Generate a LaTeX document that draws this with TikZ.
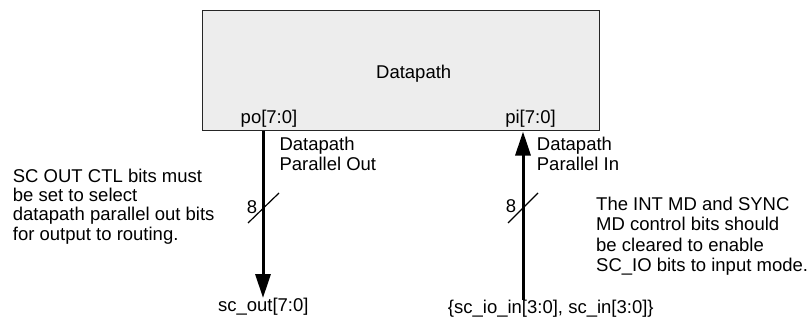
\documentclass[tikz,border=0pt]{standalone}
\usepackage{fontspec}
\setmainfont{Liberation Sans}
\usetikzlibrary{arrows.meta,positioning,calc}

\begin{document}
\begin{tikzpicture}[x=1pt, y=-1pt, >={Triangle[length=24pt,width=15pt]},
    every node/.style={font=\fontsize{18.5}{19.5}\selectfont, inner sep=0pt},
    block/.style={rectangle, draw=black!85, line width=1.5pt, fill=black!7, minimum width=397pt, minimum height=120pt},
    bus/.style={line width=3pt},
    buswidth/.style={line width=1.2pt},
    note/.style={align=left, anchor=base west}]
    \useasboundingbox (0,0) rectangle (810,326);

    % Datapath block and its ports
    \node[block] (dp) at (401,70.5) {};
    \node[anchor=base] (dptitle) at (413.7,78.3) {Datapath};
    \node[anchor=base] (polbl) at (269,124) {po[7:0]};
    \node[anchor=base] (pilbl) at (530.5,124) {pi[7:0]};
    \coordinate (po) at (263,130.5);
    \coordinate (pi) at (523,131.5);

    % Left side: parallel out (note anchors sit on the last baseline)
    \coordinate (scoutend) at (263,298);
    \draw[bus,->] (po) -- (scoutend);
    \node[note] (polabel) at (279.3,170.2) {Datapath\\Parallel Out};
    \coordinate (powidth) at (263,208);
    \draw[buswidth] ([shift={(-15,15)}]powidth) -- ([shift={(16,-15)}]powidth);
    \node[anchor=base] (pocount) at (252,213) {8};
    \node[anchor=base] (scout) at (263.3,311.7) {sc\_out[7:0]};
    \node[note, font=\fontsize{18.5}{19.1}\selectfont] (ctlnote) at (12.7,240)
        {SC OUT CTL bits must\\be set to select\\datapath parallel out bits\\for output to routing.};

    % Right side: parallel in
    \coordinate (scinend) at (523,300);
    \draw[bus,->] (scinend) -- (pi);
    \node[note] (pilabel) at (536.7,170) {Datapath\\Parallel In};
    \coordinate (piwidth) at (523,208);
    \draw[buswidth] ([shift={(-15,15)}]piwidth) -- ([shift={(15,-15)}]piwidth);
    \node[anchor=base] (picount) at (511,212.5) {8};
    \node[anchor=base] (scin) at (550.8,313) {\{sc\_io\_in[3:0], sc\_in[3:0]\}};
    \node[note, font=\fontsize{18.5}{20.5}\selectfont] (mdnote) at (596,271.5)
        {The INT MD and SYNC\\MD control bits should\\be cleared to enable\\SC\_IO bits to input mode.};
\end{tikzpicture}
\end{document}
